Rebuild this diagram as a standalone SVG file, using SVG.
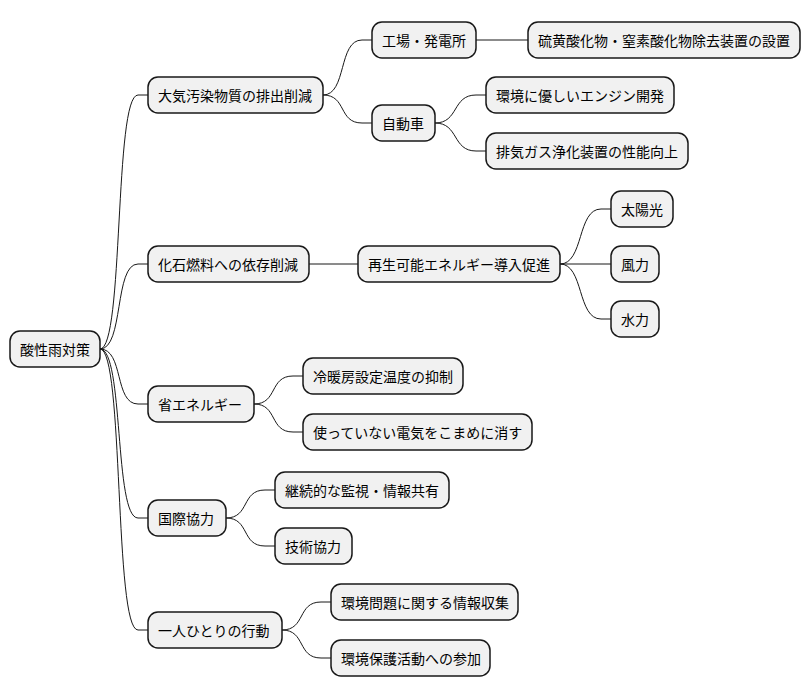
<svg xmlns="http://www.w3.org/2000/svg" width="810" height="696" viewBox="0 0 810 696">
<style>
.n rect{fill:#F1F1F1;stroke:#181818;stroke-width:1.5}
.n text{font-family:"Noto Sans CJK JP","Noto Sans CJK SC",sans-serif;font-size:14px;fill:#000;dominant-baseline:central}
#c path{fill:none;stroke:#181818;stroke-width:1}
</style>
<rect width="810" height="696" fill="#fff"/>
<g id="c">
<path d="M100 349 C124 349 114 95 138 95 L148 95"/>
<path d="M100 349 C124 349 114 264 138 264 L148 264"/>
<path d="M100 349 C124 349 114 404 138 404 L148 404"/>
<path d="M100 349 C124 349 114 518 138 518 L148 518"/>
<path d="M100 349 C124 349 114 630 138 630 L148 630"/>
<path d="M323 95 C347 95 338 40 362 40 L372 40"/>
<path d="M323 95 C347 95 338 123 362 123 L372 123"/>
<path d="M476 40 L528 40"/>
<path d="M435 123 C459 123 452 95 476 95 L486 95"/>
<path d="M435 123 C459 123 452 151 476 151 L486 151"/>
<path d="M309 264 L358 264"/>
<path d="M560 264 C584 264 577 209 601 209 L611 209"/>
<path d="M560 264 L611 264"/>
<path d="M560 264 C584 264 577 319 601 319 L611 319"/>
<path d="M254 404 C278 404 269 376 293 376 L303 376"/>
<path d="M254 404 C278 404 269 432 293 432 L303 432"/>
<path d="M226 518 C250 518 241 490 265 490 L275 490"/>
<path d="M226 518 C250 518 241 546 265 546 L275 546"/>
<path d="M282 630 C306 630 297 602 321 602 L331 602"/>
<path d="M282 630 C306 630 297 658 321 658 L331 658"/>
</g>
<g id="n0" class="n"><rect x="10" y="331" width="90" height="36" rx="10"/><text x="20" y="349">酸性雨対策</text></g>
<g id="n1" class="n"><rect x="148" y="77" width="175" height="36" rx="10"/><text x="158" y="95">大気汚染物質の排出削減</text></g>
<g id="n2" class="n"><rect x="372" y="22" width="104" height="36" rx="10"/><text x="382" y="40">工場・発電所</text></g>
<g id="n3" class="n"><rect x="528" y="22" width="272" height="36" rx="10"/><text x="538" y="40">硫黄酸化物・窒素酸化物除去装置の設置</text></g>
<g id="n4" class="n"><rect x="372" y="105" width="63" height="36" rx="10"/><text x="382" y="123">自動車</text></g>
<g id="n5" class="n"><rect x="486" y="77" width="188" height="36" rx="10"/><text x="496" y="95">環境に優しいエンジン開発</text></g>
<g id="n6" class="n"><rect x="486" y="133" width="202" height="36" rx="10"/><text x="496" y="151">排気ガス浄化装置の性能向上</text></g>
<g id="n7" class="n"><rect x="148" y="246" width="161" height="36" rx="10"/><text x="158" y="264">化石燃料への依存削減</text></g>
<g id="n8" class="n"><rect x="358" y="246" width="202" height="36" rx="10"/><text x="368" y="264">再生可能エネルギー導入促進</text></g>
<g id="n9" class="n"><rect x="611" y="191" width="62" height="36" rx="10"/><text x="621" y="209">太陽光</text></g>
<g id="n10" class="n"><rect x="611" y="246" width="48" height="36" rx="10"/><text x="621" y="264">風力</text></g>
<g id="n11" class="n"><rect x="611" y="301" width="48" height="36" rx="10"/><text x="621" y="319">水力</text></g>
<g id="n12" class="n"><rect x="148" y="386" width="106" height="36" rx="10"/><text x="158" y="404">省エネルギー</text></g>
<g id="n13" class="n"><rect x="303" y="358" width="160" height="36" rx="10"/><text x="313" y="376">冷暖房設定温度の抑制</text></g>
<g id="n14" class="n"><rect x="303" y="414" width="229" height="36" rx="10"/><text x="313" y="432">使っていない電気をこまめに消す</text></g>
<g id="n15" class="n"><rect x="148" y="500" width="78" height="36" rx="10"/><text x="158" y="518">国際協力</text></g>
<g id="n16" class="n"><rect x="275" y="472" width="174" height="36" rx="10"/><text x="285" y="490">継続的な監視・情報共有</text></g>
<g id="n17" class="n"><rect x="275" y="528" width="77" height="36" rx="10"/><text x="285" y="546">技術協力</text></g>
<g id="n18" class="n"><rect x="148" y="612" width="134" height="36" rx="10"/><text x="158" y="630">一人ひとりの行動</text></g>
<g id="n19" class="n"><rect x="331" y="584" width="187" height="36" rx="10"/><text x="341" y="602">環境問題に関する情報収集</text></g>
<g id="n20" class="n"><rect x="331" y="640" width="159" height="36" rx="10"/><text x="341" y="658">環境保護活動への参加</text></g>
</svg>
